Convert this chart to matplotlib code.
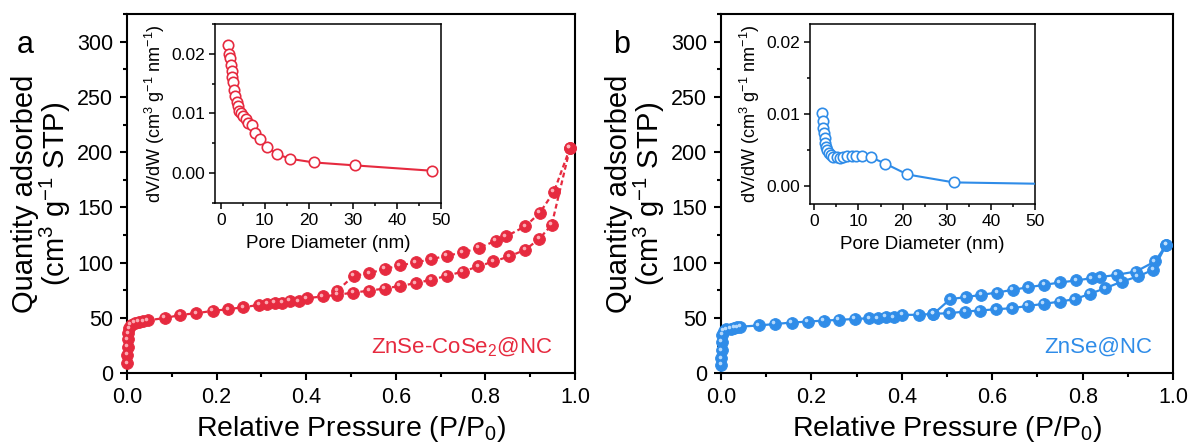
"""N2 sorption isotherms with pore size distribution insets."""

import matplotlib
matplotlib.use("Agg")
import matplotlib.pyplot as plt
from matplotlib.ticker import MultipleLocator
from matplotlib.transforms import offset_copy

plt.rcParams["font.family"] = ["Liberation Sans", "DejaVu Sans"]
plt.rcParams["mathtext.fontset"] = "custom"
plt.rcParams["mathtext.rm"] = "Liberation Sans"
plt.rcParams["mathtext.it"] = "Liberation Sans:italic"

RED = "#E62A3F"
BLUE = "#2F8CE8"

# ZnSe-CoSe2@NC isotherm
p_ads_a = [0.0005, 0.001, 0.0015, 0.002, 0.003, 0.005, 0.008, 0.018, 0.027, 0.036, 0.047,
           0.085, 0.119, 0.155, 0.192, 0.226, 0.260, 0.295, 0.313, 0.330, 0.347, 0.363, 0.384,
           0.401, 0.437, 0.469, 0.505, 0.541, 0.575, 0.609, 0.645, 0.679, 0.714, 0.750, 0.784,
           0.818, 0.853, 0.889, 0.920, 0.948, 0.989]
q_ads_a = [9, 16.6, 24, 30.8, 36.3, 40.8, 43.8, 45.9, 46.7, 47.2, 48,
           50, 52.8, 54.4, 56.5, 58, 59.8, 61.9, 62.8, 64, 64, 65.8, 65,
           68, 69.5, 71, 73, 74.8, 76.7, 79, 81.6, 84.6, 88.2, 92.1, 96.7,
           101.2, 105.7, 111.8, 121.5, 134.4, 204]
p_des_a = [0.989, 0.953, 0.921, 0.889, 0.846, 0.823, 0.785, 0.750, 0.714, 0.679, 0.645,
           0.609, 0.575, 0.541, 0.506, 0.469]
q_des_a = [204, 164.2, 145, 133, 123.8, 119.9, 113.3, 109.4, 106.3, 103.3, 100.3,
           97.6, 94.3, 90.6, 88.2, 74.6]

# ZnSe@NC isotherm
p_ads_b = [0.0005, 0.001, 0.0015, 0.002, 0.003, 0.006, 0.012, 0.021, 0.029, 0.036, 0.043,
           0.084, 0.119, 0.156, 0.192, 0.227, 0.260, 0.296, 0.328, 0.347, 0.365, 0.382,
           0.401, 0.437, 0.470, 0.505, 0.540, 0.573, 0.609, 0.644, 0.679, 0.714, 0.749,
           0.783, 0.816, 0.850, 0.887, 0.922, 0.956, 0.985]
q_ads_b = [7.5, 13.6, 21, 28.7, 34.7, 38.2, 39.8, 40.5, 41.3, 41.8, 42.2,
           43.3, 44.6, 45.9, 46.8, 47.7, 48.3, 49.2, 49.8, 49.8, 51.3, 50.8,
           52.9, 52.9, 53.8, 54.4, 55.9, 56.8, 58, 58.9, 61, 62.8, 64.9,
           67.1, 71.9, 77, 83, 87.6, 93.7, 116.3]
p_des_b = [0.985, 0.960, 0.918, 0.875, 0.839, 0.820, 0.786, 0.750, 0.715, 0.680, 0.645,
           0.611, 0.576, 0.541, 0.507, 0.470]
q_des_b = [116.3, 101.2, 92.1, 89.1, 87, 86.1, 84, 82.2, 80, 77.9, 75.5,
           73.1, 71, 68.9, 67.1, 53.8]

# pore size distributions
d_a = [1.73, 1.96, 2.1, 2.3, 2.5, 2.65, 2.87, 3.1, 3.33, 3.64, 3.9, 4.2, 4.7, 5.1, 5.7,
       6.3, 7.0, 7.8, 8.9, 10.5, 12.7, 15.8, 21.1, 30.5, 48]
v_a = [0.0214, 0.0200, 0.0193, 0.0182, 0.0172, 0.0162, 0.0153, 0.0140, 0.0130, 0.0120,
       0.0112, 0.0105, 0.0100, 0.0095, 0.0090, 0.0084, 0.0080, 0.0067, 0.0057, 0.0044,
       0.0032, 0.0024, 0.0018, 0.0013, 0.0004]
d_b = [1.83, 1.9, 2.05, 2.2, 2.35, 2.5, 2.7, 2.96, 3.3, 3.7, 4.3, 5.1, 5.8, 6.6, 7.5,
       8.5, 9.4, 10.8, 12.8, 16.1, 21.1, 31.6, 52]
v_b = [0.0101, 0.0090, 0.0081, 0.0073, 0.0066, 0.0060, 0.0054, 0.0050, 0.0046, 0.0043,
       0.0040, 0.0040, 0.0039, 0.0040, 0.0042, 0.0042, 0.0041, 0.0042, 0.0040, 0.0031,
       0.0016, 0.0005, 0.0003]


def style_axes(ax, lw, size, length, pad):
    for sp in ax.spines.values():
        sp.set_linewidth(lw)
    ax.tick_params(which="major", direction="out", length=length, width=lw, labelsize=size, pad=pad)
    ax.tick_params(which="minor", direction="out", length=length * 0.55, width=lw)


def draw_isotherm(fig, ax, p, q, color, light, ls):
    ax.plot(p, q, ls=ls, lw=1.6, color=color, marker="o", ms=8.5, mfc=color, mec=color,
            mew=0.6, clip_on=False, zorder=3)
    hl = offset_copy(ax.transData, fig=fig, x=-1.6, y=1.6, units="dots")
    ax.plot(p, q, ls="none", marker="o", ms=2.6, mfc=light, mec="none", alpha=0.9,
            transform=hl, clip_on=False, zorder=4)


fig = plt.figure(figsize=(11.89, 4.43), dpi=100)
panels = [
    ([0.1068, 0.1573, 0.3768, 0.811], [0.1808, 0.5418, 0.1901, 0.404], RED, "#FFB8C0", (0, (2.2, 1.4)),
     p_ads_a, q_ads_a, p_des_a, q_des_a, d_a, v_a, (-0.005, 0.025), (-1.3, 50),
     "ZnSe-CoSe$_2$@NC", 0.949, "a", 25),
    ([0.6064, 0.1573, 0.3802, 0.811], [0.6812, 0.5395, 0.1892, 0.4063], BLUE, "#C4E2FF", "-",
     p_ads_b, q_ads_b, p_des_b, q_des_b, d_b, v_b, (-0.0025, 0.0225), (-1, 50),
     "ZnSe@NC", 0.954, "b", 622),
]

for (rect, irect, color, light, ls, pa, qa, pd_, qd, dd, vv, iylim, ixlim,
     name, name_x, letter, letter_x) in panels:
    ax = fig.add_axes(rect)
    draw_isotherm(fig, ax, pa, qa, color, light, ls)
    draw_isotherm(fig, ax, pd_, qd, color, light, ls)
    ax.set_xlim(0, 1.0)
    ax.set_ylim(0, 325)
    ax.xaxis.set_major_locator(MultipleLocator(0.2))
    ax.xaxis.set_minor_locator(MultipleLocator(0.1))
    ax.yaxis.set_major_locator(MultipleLocator(50))
    ax.yaxis.set_minor_locator(MultipleLocator(25))
    ax.set_xticklabels([f"{v:.1f}" for v in ax.get_xticks()])
    style_axes(ax, 1.5, 15.5, 5, 5)
    ax.set_xlabel("Relative Pressure (P/P$_0$)", fontsize=20.5, labelpad=4)
    ax.set_ylabel("Quantity adsorbed\n(cm$^3$ g$^{-1}$ STP)", fontsize=21, labelpad=3,
                  linespacing=0.95)
    ax.text(name_x, 0.073, name, transform=ax.transAxes, ha="right", va="center",
            fontsize=16, color=color)
    fig.text(letter_x / 1189, 1 - 45 / 443, letter, ha="center", va="center", fontsize=22)

    ins = fig.add_axes(irect)
    ins.plot(dd, vv, "-", lw=1.5, color=color, marker="o", ms=7.5, mfc="white",
             mec=color, mew=1.2, zorder=3)
    ins.set_xlim(*ixlim)
    ins.set_ylim(*iylim)
    ins.xaxis.set_major_locator(MultipleLocator(10))
    ins.xaxis.set_minor_locator(MultipleLocator(5))
    ins.yaxis.set_major_locator(MultipleLocator(0.01))
    ins.yaxis.set_minor_locator(MultipleLocator(0.005))
    ins.set_yticklabels([f"{v:.2f}" for v in ins.get_yticks()])
    style_axes(ins, 1.1, 12.5, 4, 3)
    ins.set_xlabel("Pore Diameter (nm)", fontsize=13.5, labelpad=5)
    ins.set_ylabel("dV/dW (cm$^3$ g$^{-1}$ nm$^{-1}$)", fontsize=13, labelpad=3)

fig.savefig("out.png", dpi=100)
